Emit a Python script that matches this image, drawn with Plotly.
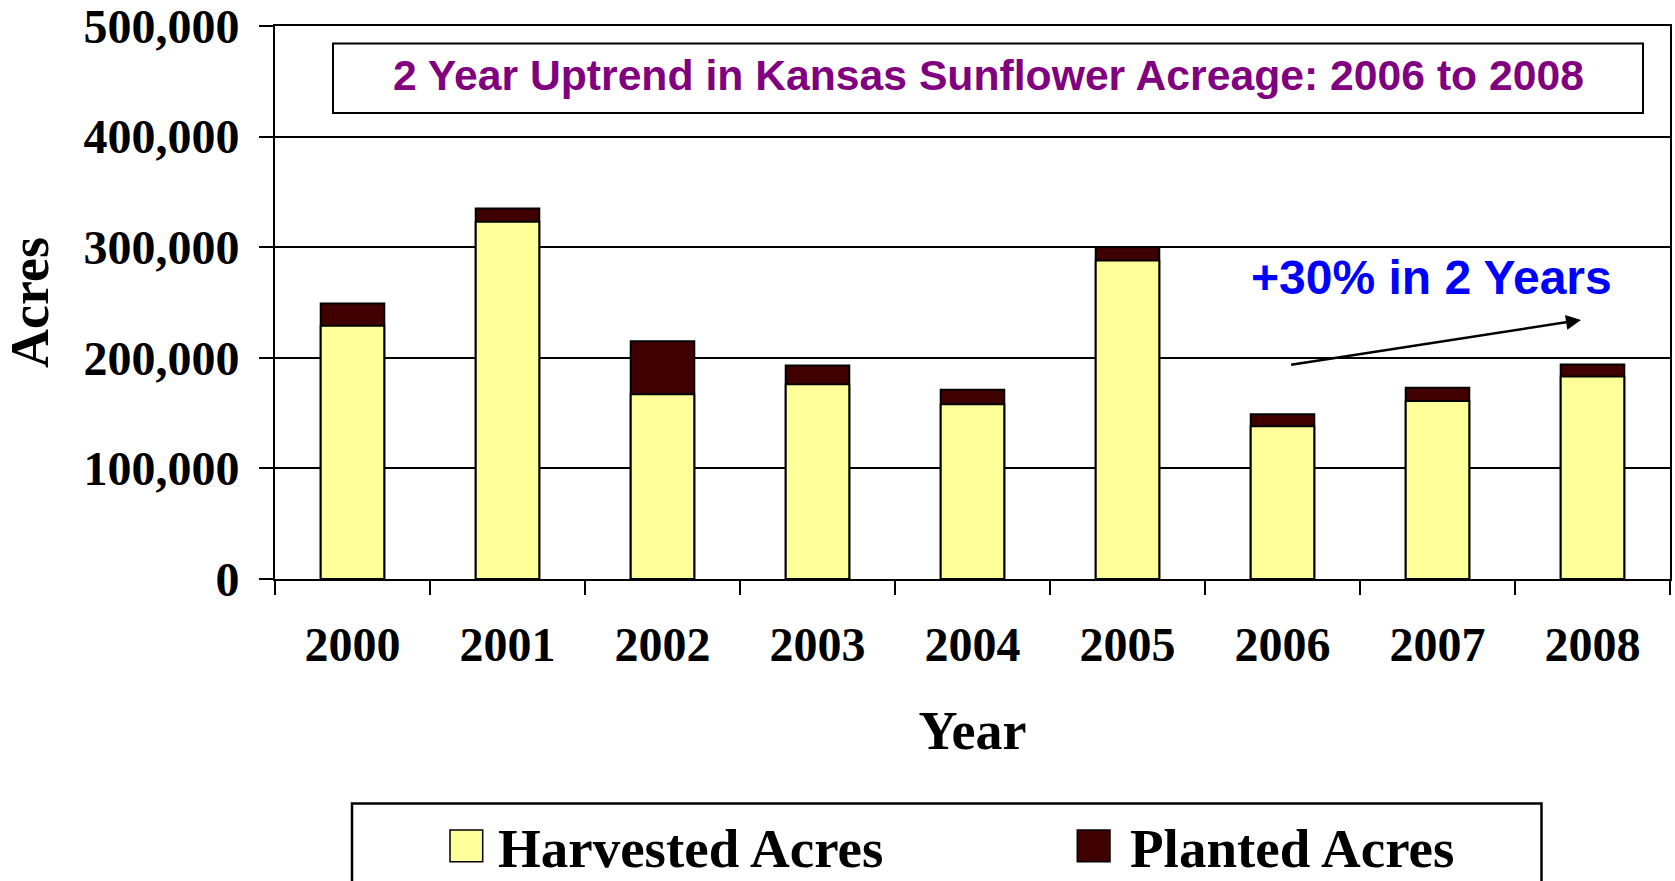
import plotly.graph_objects as go

# ---- data ----
years = ["2000", "2001", "2002", "2003", "2004", "2005", "2006", "2007", "2008"]
harvested = [229000, 323000, 167000, 176000, 158000, 288000, 138000, 161000, 183000]
planted = [249000, 335000, 215000, 193000, 171000, 300000, 149000, 173000, 194000]
series_names = ["Harvested Acres", "Planted Acres"]
y_ticks = [0, 100000, 200000, 300000, 400000, 500000]
chart_title = "2 Year Uptrend in Kansas Sunflower Acreage: 2006 to 2008"
trend_note = "+30% in 2 Years"

YELLOW = "#FFFF99"
MAROON = "#400000"
SERIF = "Liberation Serif, Times New Roman, serif"
SANS = "Liberation Sans, Arial, sans-serif"

fig = go.Figure()
# planted drawn first (behind), harvested overlaid in front
fig.add_trace(go.Bar(x=years, y=planted, name=series_names[1],
                     marker=dict(color=MAROON, line=dict(color="black", width=2)),
                     showlegend=False))
fig.add_trace(go.Bar(x=years, y=harvested, name=series_names[0],
                     marker=dict(color=YELLOW, line=dict(color="black", width=2)),
                     showlegend=False))

W, H = 1675, 881
L, R, T, B = 275, 5, 26, 302
pw, ph = W - L - R, H - T - B


def px(xp):
    return (xp - L) / pw


def py(yp):
    return (H - B - yp) / ph


fig.update_layout(
    width=W, height=H,
    margin=dict(l=L, r=R, t=T, b=B, autoexpand=False),
    paper_bgcolor="white", plot_bgcolor="white",
    barmode="overlay", bargap=0.59,
    showlegend=False,
    xaxis=dict(
        type="category", range=[-0.5, 8.5], automargin=False,
        showline=True, linecolor="black", linewidth=2, mirror=True,
        ticks="outside", tickson="boundaries", ticklen=14, tickwidth=2, tickcolor="black",
        showgrid=False,
        tickfont=dict(family=SERIF, size=48, color="black", weight="bold"),
        ticklabelstandoff=22,
        title=dict(text="Year", font=dict(family=SERIF, size=54, color="black", weight="bold"),
                   standoff=42),
    ),
    yaxis=dict(
        range=[0, 500000], tickvals=y_ticks, tickformat=",d", automargin=False,
        ticklabeloverflow="allow",
        showline=True, linecolor="black", linewidth=2, mirror=True,
        ticks="outside", ticklen=14, tickwidth=2, tickcolor="black",
        showgrid=True, gridcolor="black", gridwidth=1.5, zeroline=False,
        tickfont=dict(family=SERIF, size=48, color="black", weight="bold"),
        ticklabelstandoff=10,
        title=dict(text="Acres", font=dict(family=SERIF, size=54, color="black", weight="bold"),
                   standoff=38),
    ),
)

shapes = []
annotations = []

# title box inside the plot
shapes.append(dict(type="rect", xref="paper", yref="paper",
                   x0=px(333), x1=px(1643), y0=py(113), y1=py(43.5),
                   line=dict(color="black", width=2), fillcolor="white", layer="above"))
annotations.append(dict(xref="paper", yref="paper", x=px(988), y=py(75),
                        xanchor="center", yanchor="middle", showarrow=False,
                        text=chart_title,
                        font=dict(family=SANS, size=42.7, color="#800080", weight="bold")))

# trend note and arrow
annotations.append(dict(xref="paper", yref="paper", x=px(1431), y=py(277),
                        xanchor="center", yanchor="middle", showarrow=False,
                        text=trend_note,
                        font=dict(family=SANS, size=48, color="#0000FF", weight="bold")))
annotations.append(dict(xref="paper", yref="paper", x=px(1581), y=py(320),
                        ax=1289.6 - 1581, ay=365 - 320, axref="pixel", ayref="pixel",
                        text="", showarrow=True, arrowhead=2, arrowsize=1.2,
                        arrowwidth=2.5, arrowcolor="black", standoff=0, startstandoff=0))

# legend (custom, to reproduce the large swatches)
shapes.append(dict(type="rect", xref="paper", yref="paper",
                   x0=px(352), x1=px(1541.5), y0=py(910), y1=py(803.5),
                   line=dict(color="black", width=2.5), fillcolor="white"))
legend_items = [(series_names[0], YELLOW, 450, 497), (series_names[1], MAROON, 1077.3, 1128.5)]
for name, color, sx, tx in legend_items:
    shapes.append(dict(type="rect", xref="paper", yref="paper",
                       x0=px(sx), x1=px(sx + 32.7), y0=py(861.7), y1=py(830),
                       line=dict(color="black", width=1.5), fillcolor=color))
    annotations.append(dict(xref="paper", yref="paper", x=px(tx), y=py(880),
                            xanchor="left", yanchor="bottom", showarrow=False,
                            text=name, borderpad=0,
                            font=dict(family=SERIF, size=55, color="black", weight="bold")))

fig.update_layout(shapes=shapes, annotations=annotations)
fig.write_html("out.html", config={"displayModeBar": False},
               post_script="document.body.style.margin='0';document.body.style.overflow='hidden';")
